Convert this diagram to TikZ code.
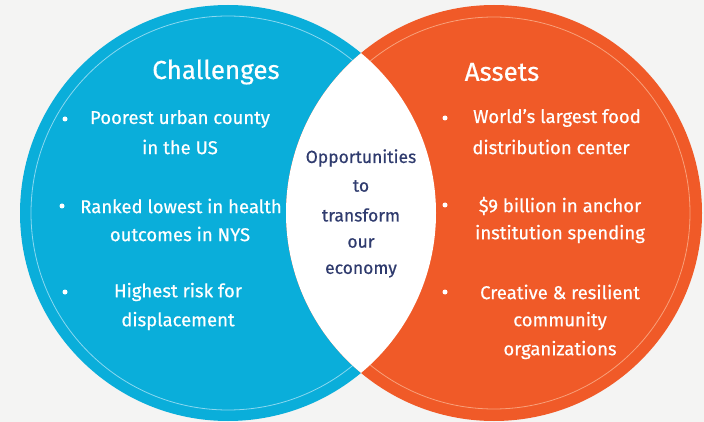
\documentclass[tikz,border=0pt]{standalone}
\usepackage{fontspec}
\setmainfont{Fira Sans}[FakeBold=0.5]
\definecolor{bgc}{HTML}{F4F4F3}
\definecolor{bluec}{HTML}{0AAEDA}
\definecolor{orangec}{HTML}{F05A28}
\definecolor{bluering}{HTML}{8AD8F0}
\definecolor{orangering}{HTML}{F8A07A}
\definecolor{navyc}{HTML}{2F3B6E}
\tikzset{
  head/.style={text=white,font=\fontsize{26}{30}\selectfont},
  item/.style={text=white,font=\fontsize{18.5}{22}\selectfont,align=center,inner sep=0pt},
  dot/.style={circle,fill=white,inner sep=0pt,minimum size=5pt},
  lens/.style={text=navyc,font=\fontsize{17.5}{20}\selectfont,inner sep=0pt}
}
\begin{document}
\begin{tikzpicture}[x=1pt,y=-1pt]
\fill[bgc] (0,0) rectangle (704,422);
\useasboundingbox (0,0) rectangle (704,422);
\fill[bluec] (228,213) circle (208);
\fill[orangec] (494,213) circle (208);
\draw[bluering,line width=0.8pt] (228,213) circle (197);
\draw[orangering,line width=0.8pt] (494,213) circle (196);
\begin{scope}
\clip (228,213) circle (208);
\fill[white] (494,213) circle (208);
\end{scope}
% left
\node[head] (ch) at (216,72) {Challenges};
\node[dot] (b1) at (65,119) {};
\node[item] (l1) at (180,119) {Poorest urban county};
\node[item] (l1b) at (180,147) {in the US};
\node[dot] (b2) at (62,206) {};
\node[item] (l2) at (181,206) {Ranked lowest in health};
\node[item] (l2b) at (180,234) {outcomes in NYS};
\node[dot] (b3) at (65,292) {};
\node[item] (l3) at (178,292) {Highest risk for};
\node[item] (l3b) at (178,321) {displacement};
% right
\node[head] (as) at (502,72) {Assets};
\node[dot] (r1d) at (445,118) {};
\node[item] (r1) at (557,118) {World's largest food};
\node[item] (r1b) at (551,147) {distribution center};
\node[dot] (r2d) at (445,205) {};
\node[item] (r2) at (560,206) {\$9 billion in anchor};
\node[item] (r2b) at (560,234) {institution spending};
\node[dot] (r3d) at (445,292) {};
\node[item] (r3) at (560,292) {Creative \& resilient};
\node[item] (r3b) at (560,321) {community};
\node[item] (r3c) at (560,350) {organizations};
% lens
\node[lens] (o1) at (361,158) {Opportunities};
\node[lens] (o2) at (361,186) {to};
\node[lens] (o3) at (361,215) {transform};
\node[lens] (o4) at (361,243) {our};
\node[lens] (o5) at (361,271) {economy};
\end{tikzpicture}
\end{document}
